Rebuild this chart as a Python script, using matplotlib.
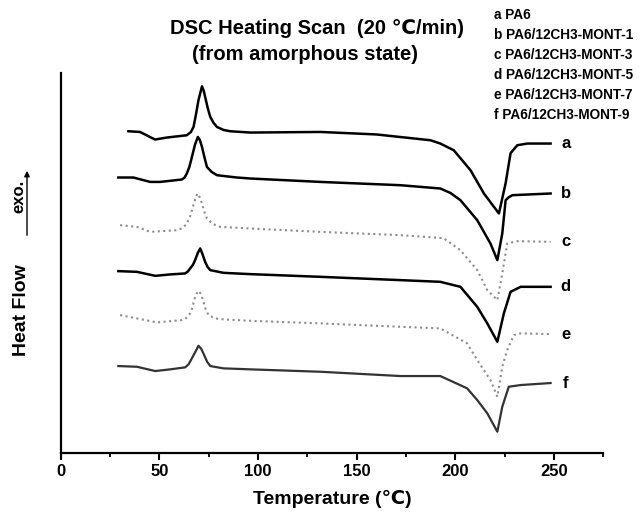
import matplotlib
matplotlib.use('Agg')
import matplotlib.pyplot as plt

plt.rcParams['font.family'] = ['Liberation Sans', 'DejaVu Sans']
plt.rcParams['font.weight'] = 'bold'

# temperature (C) and heat flow (arbitrary units, each curve shifted)
Ta = [34.3, 40.2, 47.8, 53.8, 63.9, 66.0, 67.3, 68.5, 69.8, 71.6, 72.5, 73.2, 74.5, 75.8, 77.5, 79.2,
      82.5, 85.9, 96.1, 131.7, 160.0, 187.4, 192.4, 199.2, 207.7, 214.5, 222.1, 225.5, 228.0, 231.4,
      236.5, 248.3]
Ha = [321.7, 321.0, 313.4, 315.4, 317.7, 321.0, 326.0, 338.0, 352.7, 366.7, 362.0, 356.0, 345.0, 336.0,
      330.0, 326.0, 323.0, 321.7, 320.4, 321.0, 318.5, 312.7, 309.4, 302.7, 282.7, 259.4, 239.4, 269.7,
      299.7, 307.7, 309.4, 309.4]

Tb = [29.2, 36.8, 45.3, 50.4, 61.4, 62.8, 63.9, 65.2, 66.5, 68.0, 69.5, 70.5, 71.6, 72.8, 74.1, 76.5,
      79.2, 89.3, 96.1, 131.6, 172.2, 192.4, 197.5, 202.6, 211.1, 217.8, 221.3, 223.8, 225.5, 227.0,
      228.9, 248.3]
Hb = [275.4, 275.4, 271.0, 271.0, 273.4, 275.5, 279.4, 286.0, 296.0, 308.0, 316.0, 313.0, 306.0, 296.0,
      286.0, 281.0, 277.7, 275.4, 274.4, 271.0, 267.7, 264.4, 260.0, 252.7, 232.7, 209.4, 192.7, 219.4,
      252.7, 255.5, 257.7, 259.4]

Tc = [30.1, 38.6, 45.3, 58.9, 62.0, 63.9, 65.5, 67.0, 68.2, 69.3, 70.4, 71.6, 72.8, 74.1, 77.0, 80.8,
      96.1, 131.6, 172.2, 194.0, 202.6, 211.1, 216.2, 221.3, 223.8, 226.3, 231.4, 248.3]
Hc = [227.7, 226.0, 221.0, 222.7, 225.0, 229.4, 236.0, 246.0, 254.0, 259.4, 256.0, 249.4, 241.0, 234.4,
      229.0, 226.0, 224.4, 221.0, 217.7, 214.7, 202.7, 182.7, 162.7, 152.7, 179.4, 209.4, 211.7, 211.0]

Td = [29.2, 38.6, 47.9, 55.5, 63.1, 64.5, 65.6, 67.0, 68.1, 69.5, 70.7, 71.8, 73.2, 74.4, 75.8, 82.5,
      96.1, 131.6, 172.2, 192.4, 202.6, 211.1, 216.2, 221.3, 224.6, 228.0, 233.1, 248.3]
Hd = [181.7, 181.0, 177.0, 178.4, 179.4, 181.5, 184.4, 188.0, 192.7, 200.0, 204.4, 199.0, 191.0, 186.0,
      182.7, 180.0, 178.7, 176.0, 172.7, 171.0, 166.0, 146.0, 129.4, 111.0, 139.4, 161.0, 166.0, 166.0]

Te = [30.1, 38.6, 48.7, 61.4, 63.8, 65.6, 66.7, 67.6, 68.8, 69.8, 71.0, 72.1, 73.4, 74.9, 78.0, 82.5,
      96.1, 131.6, 172.2, 192.4, 206.0, 211.1, 217.8, 221.3, 223.8, 226.3, 229.7, 233.1, 248.3]
He = [137.7, 134.4, 130.4, 132.7, 135.0, 139.4, 145.0, 152.7, 159.0, 162.0, 159.0, 152.7, 144.0, 137.7,
      134.5, 133.4, 132.0, 129.4, 126.0, 124.4, 109.4, 92.7, 72.7, 56.0, 86.0, 102.7, 117.7, 119.4, 118.7]

Tf = [29.2, 38.6, 47.9, 55.5, 63.1, 64.8, 66.0, 68.0, 69.8, 71.2, 72.7, 74.2, 75.8, 82.5, 96.1, 131.6,
      172.2, 192.4, 206.0, 211.1, 216.2, 221.3, 223.8, 227.1, 233.1, 248.3]
Hf = [86.7, 86.0, 81.7, 83.4, 85.4, 88.5, 92.7, 100.0, 107.0, 104.0, 97.7, 91.0, 86.7, 84.4, 83.4, 81.0,
      76.7, 76.7, 64.4, 52.7, 39.4, 21.0, 46.0, 66.0, 67.7, 69.7]

labels = ['a', 'b', 'c', 'd', 'e', 'f']
samples = ['PA6', 'PA6/12CH3-MONT-1', 'PA6/12CH3-MONT-3', 'PA6/12CH3-MONT-5',
           'PA6/12CH3-MONT-7', 'PA6/12CH3-MONT-9']

curves = [(Ta, Ha), (Tb, Hb), (Tc, Hc), (Td, Hd), (Te, He), (Tf, Hf)]
styles = [('black', '-', 1.8), ('black', '-', 1.8), ('#8c8c8c', ':', 1.5),
          ('black', '-', 1.8), ('#8c8c8c', ':', 1.5), ('#333333', '-', 1.6)]

fig = plt.figure(figsize=(6.42, 5.17), dpi=100)
ax = fig.add_axes([0.0946, 0.1244, 0.8451, 0.7344])

for (T, H), (col, ls, lw), lab in zip(curves, styles, labels):
    ax.plot(T, H, color=col, linestyle=ls, linewidth=lw, solid_joinstyle='round')
    ax.text(256, H[-1], lab, fontsize=12, fontweight='bold', ha='center', va='center')

ax.set_xlim(0, 275)
ax.set_ylim(0, 380)
ax.set_xticks([0, 50, 100, 150, 200, 250])
ax.set_xticks([25, 75, 125, 175, 225, 275], minor=True)
ax.set_yticks([])
ax.spines['top'].set_visible(False)
ax.spines['right'].set_visible(False)
ax.spines['left'].set_linewidth(1.6)
ax.spines['bottom'].set_linewidth(1.6)
ax.tick_params(axis='x', which='major', direction='out', length=5, width=1.5, labelsize=12, pad=3)
ax.tick_params(axis='x', which='minor', direction='out', length=3, width=1.3)
for t in ax.get_xticklabels():
    t.set_fontweight('bold')
ax.set_xlabel('Temperature (℃)', fontsize=14, fontweight='bold', labelpad=8)

fig.text(0.494, 1 - 28 / 517, 'DSC Heating Scan  (20 ℃/min)', fontsize=14.5, fontweight='bold',
         ha='center', va='center')
fig.text(0.475, 1 - 54 / 517, '(from amorphous state)', fontsize=14.5, fontweight='bold',
         ha='center', va='center')

for i, (lab, s) in enumerate(zip(labels, samples)):
    fig.text(494 / 642, 1 - (15 + 20 * i) / 517, lab + ' ' + s, fontsize=9.8, fontweight='bold',
             ha='left', va='center')

fig.text(22 / 642, 1 - 310 / 517, 'Heat Flow', fontsize=14, fontweight='bold', rotation=90,
         ha='center', va='center')
fig.text(19 / 642, 1 - 196 / 517, 'exo.', fontsize=12, fontweight='bold', rotation=90,
         ha='center', va='center')
fig.patches.append(matplotlib.patches.FancyArrowPatch((27 / 642, 1 - 238 / 517), (27 / 642, 1 - 168 / 517),
                                                      transform=fig.transFigure, arrowstyle='-|>',
                                                      mutation_scale=8, linewidth=1.0, color='black'))

fig.savefig('out.png', dpi=100)
